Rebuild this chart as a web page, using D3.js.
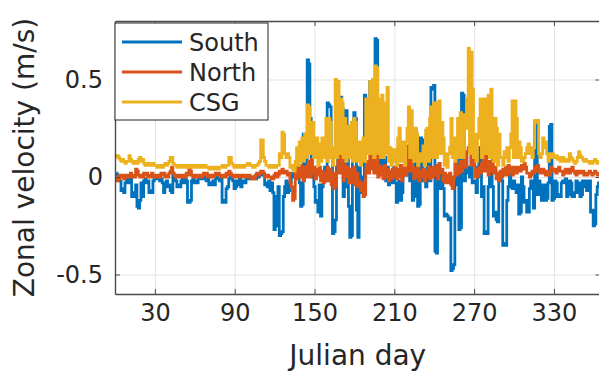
<!DOCTYPE html>
<html>
<head>
<meta charset="utf-8">
<script src="https://cdn.jsdelivr.net/npm/d3@7"></script>
<style>
	body { margin: 0; background: #fff; }
	svg text { font-family: "DejaVu Sans", sans-serif; fill: #262626; }
</style>
</head>
<body>
<svg id="chart" width="599" height="372"></svg>
<script>

// Daily series, one value per day starting at day 1
FIRST_DAY	= 1;

var seriesNames		= ["South", "North", "CSG"];
var seriesColors	= ["#0072BD", "#D95319", "#EDB120"];
var xTicks			= [30, 90, 150, 210, 270, 330];
var yTicks			= [-0.5, 0, 0.5];

var south = [
	0.02, 0.01, 0.00, -0.02, -0.07, -0.06, -0.08, -0.03, -0.01, -0.02,
	-0.03, -0.01, -0.10, -0.08, -0.10, -0.04, -0.15, -0.16, -0.12, -0.03,
	-0.10, -0.02, -0.01, -0.03, -0.02, -0.08, -0.07, -0.08, -0.02, -0.01,
	0.00, -0.01, 0.00, -0.02, -0.01, -0.03, -0.08, -0.05, -0.02, -0.05,
	-0.04, -0.07, -0.08, 0.01, 0.00, -0.02, -0.05, -0.04, -0.05, -0.02,
	-0.01, -0.03, -0.01, -0.02, -0.13, -0.13, -0.12, -0.02, -0.01, -0.03,
	-0.02, -0.03, 0.00, -0.01, 0.00, -0.01, 0.00, -0.01, -0.02, -0.01,
	-0.04, -0.03, -0.04, -0.02, -0.04, -0.01, 0.00, -0.01, -0.02, -0.01,
	-0.13, -0.12, -0.13, -0.06, -0.05, -0.01, 0.00, 0.00, -0.02, -0.06,
	-0.05, -0.02, -0.04, -0.01, -0.05, -0.03, -0.02, -0.03, -0.01, 0.00,
	0.00, -0.01, 0.00, -0.01, 0.00, -0.01, 0.01, 0.00, 0.01, 0.02,
	0.02, 0.01, -0.04, -0.03, -0.05, -0.02, -0.07, -0.03, -0.08, -0.27,
	-0.25, -0.10, -0.05, -0.30, -0.29, -0.28, -0.10, -0.05, -0.02, -0.08,
	-0.07, -0.03, 0.00, 0.02, 0.00, 0.03, 0.05, 0.06, -0.03, -0.15,
	-0.14, 0.22, 0.20, 0.05, 0.60, 0.58, 0.30, 0.05, 0.00, -0.05,
	-0.13, -0.12, -0.18, -0.04, -0.20, -0.05, 0.02, 0.05, -0.02, 0.38,
	0.37, 0.36, 0.10, -0.29, -0.28, -0.22, 0.05, 0.40, 0.10, 0.41,
	0.35, -0.10, -0.05, 0.34, 0.20, -0.15, -0.31, -0.30, 0.10, 0.33,
	0.30, -0.17, -0.31, 0.05, -0.02, -0.08, 0.00, 0.42, 0.20, 0.40,
	0.38, 0.49, 0.30, 0.45, 0.10, 0.71, 0.70, 0.35, 0.10, 0.05,
	0.20, 0.00, 0.10, -0.02, 0.05, -0.04, 0.02, 0.00, -0.03, 0.05,
	-0.03, -0.13, -0.12, -0.02, -0.12, -0.08, 0.02, 0.05, 0.01, 0.10,
	0.01, -0.02, 0.05, -0.12, -0.10, 0.24, 0.22, -0.15, -0.14, 0.20,
	0.19, -0.02, 0.00, -0.05, 0.05, 0.10, -0.02, 0.46, 0.45, 0.47,
	-0.38, -0.39, 0.05, -0.05, -0.06, 0.02, -0.06, -0.20, -0.19, -0.20,
	-0.22, -0.21, -0.48, -0.47, -0.45, -0.04, 0.00, 0.10, -0.27, -0.26,
	0.43, 0.42, -0.02, 0.10, 0.05, 0.02, 0.00, 0.05, -0.03, -0.02,
	-0.03, -0.08, 0.05, 0.15, 0.12, -0.10, -0.05, -0.29, -0.28, -0.29,
	-0.05, 0.05, 0.02, -0.05, -0.20, -0.18, -0.22, -0.23, -0.02, 0.00,
	-0.02, -0.35, -0.34, -0.35, -0.12, -0.05, 0.02, -0.03, -0.06, -0.02,
	-0.06, -0.08, -0.04, -0.19, -0.18, 0.00, -0.05, -0.13, -0.12, -0.18,
	-0.18, -0.06, -0.02, -0.03, -0.16, 0.28, 0.27, -0.09, -0.02, -0.04,
	-0.12, -0.11, -0.04, -0.12, -0.11, -0.03, 0.26, 0.27, -0.12, -0.11,
	-0.02, -0.03, -0.10, -0.09, -0.10, -0.03, -0.02, -0.03, -0.01, -0.10,
	-0.09, -0.02, -0.03, -0.10, -0.10, -0.08, -0.02, -0.08, -0.03, -0.10,
	-0.09, -0.02, -0.05, -0.02, -0.07, -0.03, -0.02, -0.18, -0.17, -0.25,
	-0.24, -0.09, -0.05, -0.03, -0.04
];

var north = [
	0.00, -0.02, -0.01, 0.01, 0.00, 0.01, -0.01, 0.00, 0.01, 0.00,
	0.01, 0.02, 0.00, 0.01, 0.00, 0.04, 0.03, 0.01, 0.00, 0.01,
	0.00, 0.02, 0.01, 0.02, 0.00, 0.01, 0.00, 0.02, 0.01, 0.00,
	0.01, 0.00, 0.01, 0.00, 0.02, 0.01, 0.02, 0.00, 0.01, 0.00,
	0.02, 0.03, 0.05, 0.02, 0.01, 0.00, 0.01, 0.00, 0.01, 0.00,
	0.00, 0.01, 0.00, 0.02, 0.01, 0.04, 0.03, 0.01, 0.00, 0.01,
	0.00, 0.01, 0.00, 0.01, 0.00, 0.01, 0.02, 0.01, 0.02, 0.00,
	0.01, 0.00, 0.01, 0.00, 0.01, 0.02, 0.01, 0.02, 0.01, 0.00,
	0.00, 0.01, 0.00, 0.02, 0.01, 0.03, 0.02, 0.01, 0.00, 0.01,
	0.00, 0.01, 0.00, 0.01, 0.00, 0.01, 0.00, 0.01, 0.00, 0.01,
	0.01, 0.00, -0.01, 0.00, -0.01, 0.01, 0.02, 0.01, 0.02, 0.03,
	0.03, 0.02, 0.00, 0.01, 0.01, 0.00, 0.00, -0.01, -0.01, 0.01,
	0.02, 0.00, 0.01, 0.03, 0.02, 0.04, 0.03, 0.02, 0.03, 0.01,
	0.02, -0.03, -0.05, -0.12, -0.11, 0.04, -0.01, 0.05, 0.00, 0.06,
	0.04, -0.02, 0.05, 0.00, 0.06, 0.08, 0.00, 0.09, 0.02, 0.05,
	-0.01, 0.04, 0.01, 0.05, -0.02, 0.03, -0.03, 0.02, -0.02, 0.05,
	-0.02, 0.04, -0.04, 0.02, -0.06, -0.05, 0.02, 0.08, 0.16, 0.02,
	0.10, -0.02, 0.06, 0.00, 0.05, -0.03, 0.04, 0.00, -0.03, 0.05,
	-0.04, 0.02, -0.05, -0.02, -0.07, -0.03, -0.10, -0.09, 0.04, 0.08,
	0.02, 0.12, 0.04, 0.13, 0.02, 0.11, 0.12, 0.00, 0.06, 0.01,
	0.05, -0.01, 0.06, 0.00, 0.04, -0.02, 0.03, -0.01, 0.04, 0.00,
	0.05, -0.01, 0.04, 0.00, 0.06, -0.02, 0.04, 0.06, 0.01, 0.09,
	0.16, 0.03, 0.14, 0.05, -0.01, 0.04, 0.00, 0.05, -0.02, 0.03,
	0.00, 0.04, -0.02, 0.03, 0.00, 0.05, -0.01, 0.04, 0.00, 0.05,
	0.01, 0.06, -0.01, 0.07, 0.02, 0.04, -0.02, 0.02, -0.03, 0.01,
	-0.03, 0.02, -0.04, -0.06, 0.00, 0.07, 0.01, 0.06, 0.02, 0.08,
	0.03, 0.08, 0.12, 0.05, 0.13, 0.15, 0.17, 0.06, 0.19, 0.10,
	0.00, 0.04, 0.00, 0.05, 0.02, 0.07, 0.14, 0.03, 0.12, 0.05,
	0.01, 0.08, 0.03, 0.10, 0.02, 0.05, -0.01, 0.02, -0.02, 0.03,
	0.00, 0.04, 0.01, 0.05, 0.01, 0.06, 0.02, 0.05, 0.01, 0.05,
	0.05, 0.02, 0.03, 0.05, 0.03, 0.06, 0.04, 0.07, 0.05, 0.02,
	0.02, 0.00, 0.01, 0.03, 0.02, 0.05, 0.03, 0.06, 0.04, 0.02,
	0.02, 0.04, 0.03, 0.01, 0.02, 0.03, 0.01, 0.05, 0.03, 0.04,
	0.04, 0.02, 0.03, 0.05, 0.03, 0.03, 0.01, 0.02, 0.04, 0.02,
	0.04, 0.02, 0.03, 0.05, 0.03, 0.02, 0.01, 0.03, 0.02, 0.03,
	0.02, 0.03, 0.01, 0.02, 0.01, 0.02, 0.03, 0.02, 0.01, 0.02,
	0.03, 0.02, 0.01, 0.02, 0.02
];

var csg = [
	0.10, 0.11, 0.10, 0.09, 0.08, 0.09, 0.08, 0.07, 0.08, 0.08,
	0.11, 0.09, 0.08, 0.07, 0.07, 0.08, 0.07, 0.09, 0.10, 0.08,
	0.09, 0.07, 0.06, 0.07, 0.06, 0.06, 0.07, 0.06, 0.07, 0.06,
	0.06, 0.05, 0.06, 0.06, 0.05, 0.05, 0.06, 0.07, 0.06, 0.07,
	0.08, 0.10, 0.10, 0.07, 0.06, 0.06, 0.05, 0.06, 0.06, 0.05,
	0.05, 0.06, 0.06, 0.05, 0.05, 0.06, 0.06, 0.05, 0.05, 0.06,
	0.06, 0.05, 0.05, 0.06, 0.06, 0.05, 0.05, 0.06, 0.05, 0.05,
	0.04, 0.05, 0.05, 0.04, 0.05, 0.05, 0.04, 0.04, 0.05, 0.05,
	0.06, 0.05, 0.05, 0.06, 0.06, 0.10, 0.10, 0.07, 0.06, 0.05,
	0.05, 0.06, 0.05, 0.05, 0.06, 0.06, 0.05, 0.06, 0.06, 0.07,
	0.07, 0.06, 0.06, 0.05, 0.05, 0.06, 0.06, 0.07, 0.08, 0.19,
	0.19, 0.10, 0.08, 0.06, 0.06, 0.05, 0.05, 0.06, 0.05, 0.06,
	0.05, 0.06, 0.06, 0.12, 0.10, 0.23, 0.22, 0.12, 0.10, 0.12,
	0.10, 0.05, 0.06, 0.04, 0.03, 0.08, 0.15, 0.06, 0.18, 0.08,
	0.20, 0.08, 0.22, 0.10, 0.37, 0.36, 0.12, 0.22, 0.28, 0.10,
	0.12, 0.20, 0.06, 0.17, 0.08, 0.20, 0.10, 0.18, 0.30, 0.08,
	0.30, 0.28, 0.10, 0.06, 0.15, 0.50, 0.10, 0.49, 0.12, 0.40,
	0.38, 0.10, 0.30, 0.08, 0.18, 0.26, 0.10, 0.28, 0.08, 0.30,
	0.28, 0.08, 0.12, 0.18, 0.06, 0.14, 0.20, 0.08, 0.40, 0.12,
	0.40, 0.49, 0.12, 0.50, 0.10, 0.57, 0.56, 0.12, 0.40, 0.10,
	0.42, 0.10, 0.38, 0.12, 0.46, 0.08, 0.15, 0.06, 0.14, 0.08,
	0.14, 0.06, 0.20, 0.25, 0.08, 0.15, 0.18, 0.06, 0.18, 0.25,
	0.36, 0.10, 0.34, 0.25, 0.08, 0.25, 0.22, 0.06, 0.12, 0.08,
	0.12, 0.16, 0.06, 0.24, 0.25, 0.08, 0.30, 0.36, 0.10, 0.38,
	0.36, 0.10, 0.38, 0.39, 0.12, 0.28, 0.20, 0.06, 0.12, 0.05,
	0.12, 0.15, 0.30, 0.10, 0.20, 0.08, 0.14, 0.30, 0.10, 0.33,
	0.30, 0.10, 0.32, 0.25, 0.40, 0.66, 0.12, 0.64, 0.45, 0.10,
	0.22, 0.08, 0.20, 0.30, 0.40, 0.10, 0.40, 0.38, 0.12, 0.40,
	0.42, 0.10, 0.45, 0.30, 0.08, 0.30, 0.25, 0.06, 0.22, 0.10,
	0.10, 0.06, 0.13, 0.10, 0.15, 0.08, 0.15, 0.22, 0.39, 0.10,
	0.39, 0.30, 0.10, 0.18, 0.15, 0.08, 0.08, 0.10, 0.12, 0.15,
	0.17, 0.12, 0.15, 0.10, 0.15, 0.29, 0.28, 0.29, 0.12, 0.10,
	0.12, 0.20, 0.15, 0.18, 0.12, 0.08, 0.12, 0.10, 0.12, 0.10,
	0.10, 0.11, 0.09, 0.10, 0.08, 0.09, 0.10, 0.08, 0.09, 0.08,
	0.08, 0.12, 0.10, 0.09, 0.08, 0.07, 0.08, 0.10, 0.13, 0.11,
	0.10, 0.09, 0.08, 0.09, 0.08, 0.08, 0.07, 0.08, 0.07, 0.08,
	0.09, 0.08, 0.07, 0.08, 0.08
];

var PLOT = { left: 115, right: 600.5, top: 21, bottom: 294 };
var FONT_TICK	= 24;
var FONT_LABEL	= 28;

function drawGrid(svg, x, y) {

	var w = PLOT.right - PLOT.left;
	var h = PLOT.bottom - PLOT.top;

	svg.append("g")
		.attr("transform", "translate(0," + PLOT.bottom + ")")
		.call(d3.axisBottom(x).tickValues(xTicks).tickSize(-h).tickFormat(""))
		.call(g => g.select(".domain").remove())
		.selectAll("line").attr("stroke", "#e3e3e3");

	svg.append("g")
		.attr("transform", "translate(" + PLOT.left + ",0)")
		.call(d3.axisLeft(y).tickValues(yTicks).tickSize(-w).tickFormat(""))
		.call(g => g.select(".domain").remove())
		.selectAll("line").attr("stroke", "#e3e3e3");
}

function drawFrame(svg, x, y) {

	var frame = svg.append("g").attr("class", "frame");

	var bottom = frame.append("g")
		.attr("transform", "translate(0," + PLOT.bottom + ")")
		.call(d3.axisBottom(x).tickValues(xTicks).tickSizeInner(-5).tickSizeOuter(0).tickPadding(10));

	bottom.selectAll("text")
		.attr("font-size", FONT_TICK)
		.attr("dy", "0.71em");

	frame.append("g")
		.attr("transform", "translate(0," + PLOT.top + ")")
		.call(d3.axisTop(x).tickValues(xTicks).tickSizeInner(-5).tickSizeOuter(0).tickFormat(""));

	var left = frame.append("g")
		.attr("transform", "translate(" + PLOT.left + ",0)")
		.call(d3.axisLeft(y).tickValues(yTicks).tickSizeInner(-5).tickSizeOuter(0).tickPadding(12)
			.tickFormat(d => d == 0 ? "0" : d3.format(".1f")(d).replace("\u2212", "-")));

	left.selectAll("text")
		.attr("font-size", FONT_TICK);

	frame.append("g")
		.attr("transform", "translate(" + PLOT.right + ",0)")
		.call(d3.axisRight(y).tickValues(yTicks).tickSizeInner(-5).tickSizeOuter(0).tickFormat(""));

	frame.selectAll("path.domain").attr("stroke", "#4a4a4a").attr("stroke-width", 1.4);
	frame.selectAll(".tick line").attr("stroke", "#4a4a4a");
	frame.selectAll("text").attr("fill", "#262626").attr("font-family", "DejaVu Sans, sans-serif");

	// axis titles
	svg.append("text")
		.attr("x", (PLOT.left + PLOT.right) / 2)
		.attr("y", 365)
		.attr("text-anchor", "middle")
		.attr("font-size", FONT_LABEL)
		.text("Julian day");

	svg.append("text")
		.attr("transform", "translate(34," + ((PLOT.top + PLOT.bottom) / 2) + ") rotate(-90)")
		.attr("text-anchor", "middle")
		.attr("font-size", FONT_LABEL)
		.text("Zonal velocity (m/s)");
}

function drawLegend(svg) {

	var box = { x: 115, y: 23, w: 153, h: 97 };
	var rows = [42, 72, 102];

	var legend = svg.append("g").attr("class", "legend");

	legend.append("rect")
		.attr("x", box.x)
		.attr("y", box.y)
		.attr("width", box.w)
		.attr("height", box.h)
		.attr("fill", "#fff")
		.attr("stroke", "#262626")
		.attr("stroke-width", 1);

	for ( var i = 0; i < seriesNames.length; ++i ) {

		legend.append("line")
			.attr("x1", 122)
			.attr("x2", 182)
			.attr("y1", rows[i])
			.attr("y2", rows[i])
			.attr("stroke", seriesColors[i])
			.attr("stroke-width", 3);

		legend.append("text")
			.attr("x", 189)
			.attr("y", rows[i] + 8.7)
			.attr("font-size", FONT_TICK)
			.text(seriesNames[i]);
	}
}

function main() {

	var svg = d3.select("#chart");

	var days = d3.range(south.length).map(i => FIRST_DAY + i);

	var x = d3.scaleLinear().domain([0, 365]).range([PLOT.left, PLOT.right]);
	var y = d3.scaleLinear().domain([-0.6, 0.8]).range([PLOT.bottom, PLOT.top]);

	svg.append("defs").append("clipPath")
		.attr("id", "plot-clip")
		.append("rect")
		.attr("x", PLOT.left)
		.attr("y", PLOT.top)
		.attr("width", PLOT.right - PLOT.left)
		.attr("height", PLOT.bottom - PLOT.top);

	drawGrid(svg, x, y);

	var line = d3.line()
		.x((d, i) => x(days[i]))
		.y(d => y(d))
		.curve(d3.curveStep);

	var series = [south, north, csg];

	var lines = svg.append("g").attr("clip-path", "url(#plot-clip)");

	for ( var i = 0; i < series.length; ++i ) {

		lines.append("path")
			.datum(series[i])
			.attr("d", line)
			.attr("fill", "none")
			.attr("stroke", seriesColors[i])
			.attr("stroke-width", 2.8)
			.attr("stroke-linejoin", "miter");
	}

	drawFrame(svg, x, y);
	drawLegend(svg);
}

main();

</script>
</body>
</html>
